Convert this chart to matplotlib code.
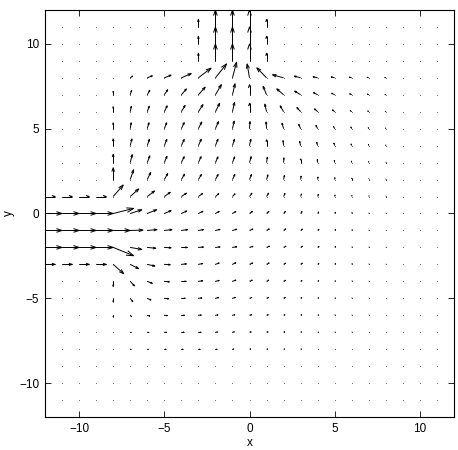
import numpy as np
import matplotlib.pyplot as plt
from matplotlib.collections import LineCollection

plt.rcParams['font.family'] = ['Liberation Sans', 'DejaVu Sans']

# grid coordinates (columns x = -12..12, rows y = 12..-12)
xs = np.arange(-12, 13)
ys = np.arange(12, -13, -1)

# u component of each arrow, one list per row (top row first)
U = [
    [0] * 25,  # y=12
    [0] * 25,  # y=11
    [0] * 25,  # y=10
    [0] * 25,  # y=9
    [0, 0, 0, 0, 0, .14, .30, .40, .58, .74, .65, .24, -.14, -.57, -.65, -.37, -.27, -.20, -.14, -.10, -.06, 0, 0, 0, 0],  # y=8
    [0, 0, 0, 0, 0, .08, .15, .20, .30, .40, .35, .15, 0, -.20, -.40, -.35, -.25, -.18, -.12, -.08, -.05, 0, 0, 0, 0],  # y=7
    [0, 0, 0, 0, 0, .07, .12, .17, .22, .27, .25, .12, 0, -.10, -.20, -.22, -.18, -.13, -.09, -.06, -.03, 0, 0, 0, 0],  # y=6
    [0, 0, 0, 0, 0, .06, .10, .14, .17, .20, .18, .10, .03, -.03, -.09, -.11, -.10, -.08, -.05, -.03, -.02, 0, 0, 0, 0],  # y=5
    [0, 0, 0, 0, 0, .10, .13, .15, .17, .17, .15, .12, .08, 0, -.03, -.06, -.06, -.05, -.04, -.02, -.01, 0, 0, 0, 0],  # y=4
    [0, 0, 0, 0, 0, .12, .15, .16, .17, .16, .15, .13, .10, .05, .02, 0, -.02, -.02, -.02, -.01, 0, 0, 0, 0, 0],  # y=3
    [0, 0, 0, 0, 0, .20, .20, .20, .19, .18, .16, .14, .12, .08, .05, .03, .02, .01, 0, 0, 0, 0, 0, 0, 0],  # y=2
    [.6, .6, .6, .6, .59, .50, .43, .35, .30, .25, .20, .15, .14, .12, .08, .05, .04, .02, .01, .01, 0, 0, 0, 0, 0],  # y=1
    [1, 1, 1, 1, 1.2, .68, .55, .40, .32, .27, .22, .20, .17, .14, .11, .08, .06, .04, .02, .01, 0, 0, 0, 0, 0],  # y=0
    [1, 1, 1, 1, 1, .75, .57, .45, .37, .30, .27, .25, .20, .16, .13, .10, .07, .05, .03, .01, 0, 0, 0, 0, 0],  # y=-1
    [1, 1, 1, 1, 1.2, .68, .50, .40, .35, .30, .27, .25, .20, .17, .14, .11, .08, .05, .03, .02, .01, 0, 0, 0, 0],  # y=-2
    [.6, .6, .6, .6, .62, .49, .45, .35, .30, .25, .22, .20, .18, .15, .12, .10, .07, .05, .03, .02, .01, 0, 0, 0, 0],  # y=-3
    [0, 0, 0, 0, 0, .25, .30, .30, .28, .25, .22, .20, .16, .13, .11, .08, .06, .04, .03, .01, 0, 0, 0, 0, 0],  # y=-4
    [0, 0, 0, 0, 0, .15, .22, .25, .22, .20, .18, .17, .14, .12, .10, .07, .05, .04, .02, .01, 0, 0, 0, 0, 0],  # y=-5
    [0, 0, 0, 0, 0, .08, .15, .18, .18, .17, .15, .14, .12, .10, .08, .06, .05, .03, .02, .01, 0, 0, 0, 0, 0],  # y=-6
    [0, 0, 0, 0, 0, .05, .10, .13, .14, .13, .12, .11, .10, .09, .07, .05, .04, .03, .02, .01, 0, 0, 0, 0, 0],  # y=-7
    [0, 0, 0, 0, 0, .03, .06, .08, .09, .09, .08, .08, .07, .06, .05, .04, .03, .02, .01, .01, 0, 0, 0, 0, 0],  # y=-8
    [0] * 25,  # y=-9
    [0] * 25,  # y=-10
    [0] * 25,  # y=-11
    [0] * 25,  # y=-12
]

outlet = [0] * 9 + [.45, 1, 1, 1, .45] + [0] * 11

# v component of each arrow
V = [
    outlet,  # y=12
    outlet,  # y=11
    outlet,  # y=10
    outlet,  # y=9
    [0, 0, 0, 0, 0, .10, .12, .16, .25, .57, .82, .92, .82, .59, .18, .10, .06, .05, .04, .03, .02, 0, 0, 0, 0],  # y=8
    [0, 0, 0, 0, .20, .25, .27, .30, .35, .45, .60, .65, .60, .50, .35, .22, .13, .09, .06, .04, .02, 0, 0, 0, 0],  # y=7
    [0, 0, 0, 0, .30, .32, .33, .35, .37, .42, .50, .55, .50, .45, .35, .25, .17, .11, .07, .05, .03, 0, 0, 0, 0],  # y=6
    [0, 0, 0, 0, .35, .35, .35, .35, .36, .40, .42, .45, .42, .40, .33, .26, .19, .14, .10, .06, .04, 0, 0, 0, 0],  # y=5
    [0, 0, 0, 0, .40, .40, .38, .37, .37, .38, .38, .38, .38, .35, .30, .25, .20, .15, .10, .07, .04, 0, 0, 0, 0],  # y=4
    [0, 0, 0, 0, .50, .47, .40, .37, .35, .35, .34, .34, .35, .32, .28, .22, .18, .13, .09, .06, .03, 0, 0, 0, 0],  # y=3
    [0, 0, 0, 0, .70, .58, .42, .35, .32, .30, .30, .30, .30, .28, .24, .20, .15, .11, .08, .05, .03, 0, 0, 0, 0],  # y=2
    [0, 0, 0, 0, .68, .45, .33, .25, .20, .18, .17, .16, .20, .20, .18, .15, .12, .09, .06, .04, .02, 0, 0, 0, 0],  # y=1
    [0, 0, 0, 0, .30, .22, .22, .17, .15, .13, .12, .12, .12, .13, .12, .11, .09, .07, .05, .03, .02, 0, 0, 0, 0],  # y=0
    [0, 0, 0, 0, 0, .02, .05, .05, .05, .05, .06, .07, .08, .09, .09, .08, .07, .05, .04, .02, .01, 0, 0, 0, 0],  # y=-1
    [0, 0, 0, 0, -.49, -.12, -.05, -.02, 0, .02, .03, .04, .06, .07, .07, .07, .06, .05, .03, .02, .01, 0, 0, 0, 0],  # y=-2
    [0, 0, 0, 0, -.55, -.25, -.10, -.02, .03, .05, .08, .10, .08, .08, .07, .07, .06, .05, .04, .02, .01, 0, 0, 0, 0],  # y=-3
    [0, 0, 0, 0, -.30, -.27, -.12, -.03, 0, .03, .05, .07, .07, .07, .06, .05, .04, .03, .02, .01, 0, 0, 0, 0, 0],  # y=-4
    [0, 0, 0, 0, -.20, -.20, -.10, -.03, 0, .02, .04, .05, .05, .05, .05, .04, .03, .02, .02, .01, 0, 0, 0, 0, 0],  # y=-5
    [0, 0, 0, 0, -.10, -.08, -.05, -.02, 0, .01, .02, .03, .03, .03, .03, .03, .02, .02, .01, .01, 0, 0, 0, 0, 0],  # y=-6
    [0, 0, 0, 0, 0, 0, -.02, -.01, 0, 0, .01, .02, .02, .02, .02, .02, .01, .01, .01, 0, 0, 0, 0, 0, 0],  # y=-7
    [0, 0, 0, 0, 0, 0, 0, 0, 0, 0, 0, .01, .01, .01, .01, .01, 0, 0, 0, 0, 0, 0, 0, 0, 0],  # y=-8
    [0] * 25,  # y=-9
    [0] * 25,  # y=-10
    [0] * 25,  # y=-11
    [0] * 25,  # y=-12
]

X, Y = np.meshgrid(xs, ys)
u = np.array(U, dtype=float)
v = np.array(V, dtype=float)

fig = plt.figure(figsize=(4.58, 4.5), dpi=100)
ax = fig.add_axes([45 / 458, 33 / 450, 409 / 458, 407 / 450])

# grid points
ax.plot(X.ravel(), Y.ravel(), linestyle='none', marker='.', ms=1.2,
        color='0.3', markeredgewidth=0)

# arrows drawn like matlab quiver: shaft + open head
a, b = 0.33, 0.33
mask = (u != 0) | (v != 0)
x0, y0, du, dv = X[mask], Y[mask], u[mask], v[mask]
tx, ty = x0 + du, y0 + dv
segs = []
for i in range(len(x0)):
    segs.append([(x0[i], y0[i]), (tx[i], ty[i])])
    segs.append([
        (tx[i] - a * (du[i] + b * dv[i]), ty[i] - a * (dv[i] - b * du[i])),
        (tx[i], ty[i]),
        (tx[i] - a * (du[i] - b * dv[i]), ty[i] - a * (dv[i] + b * du[i])),
    ])
ax.add_collection(LineCollection(segs, colors='k', linewidths=0.7))

ax.set_xlim(-12, 12)
ax.set_ylim(-12, 12)
ax.set_xticks([-10, -5, 0, 5, 10])
ax.set_yticks([-10, -5, 0, 5, 10])
ax.tick_params(direction='in', top=True, right=True, length=4, width=0.6,
               labelsize=8.5, pad=4)
for s in ax.spines.values():
    s.set_linewidth(0.8)
ax.set_xlabel('x', fontsize=8.5, labelpad=2)
ax.set_ylabel('y', fontsize=8.5, labelpad=3)

fig.savefig('out.png', dpi=100)
